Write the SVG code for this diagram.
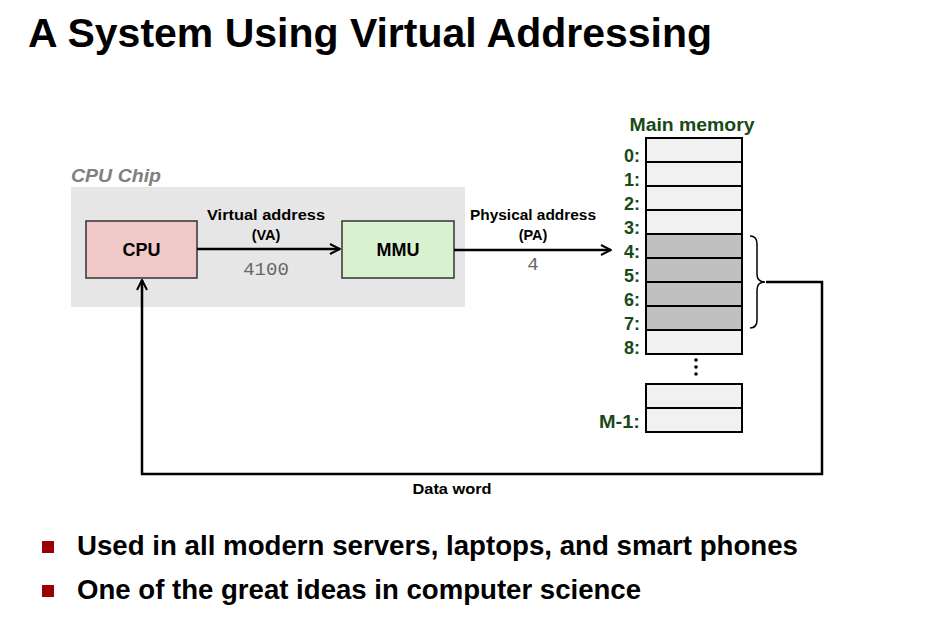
<svg xmlns="http://www.w3.org/2000/svg" width="933" height="642" viewBox="0 0 933 642">
<defs>
<marker id="ah" viewBox="0 0 12 12" refX="11" refY="6" markerWidth="12" markerHeight="12" markerUnits="userSpaceOnUse" orient="auto">
<path d="M1,1 L11,6 L1,11" fill="none" stroke="#000" stroke-width="2"/>
</marker>
<style>
.b{font-family:"Liberation Sans",Arial,sans-serif;font-weight:bold;fill:#000}
.g{font-family:"Liberation Sans",Arial,sans-serif;font-weight:bold;fill:#184a18;font-size:18px}
.m{font-family:"Liberation Mono","Courier New",monospace;fill:#666;font-size:19px}
.cell{stroke:#000;stroke-width:2}
.w{fill:#f1f1f1}
.d{fill:#c0c0c0}
.ln{fill:none;stroke:#000;stroke-width:2.5}
</style>
</defs>
<rect width="933" height="642" fill="#fff"/>
<text class="b" x="28" y="47" font-size="40" textLength="684" lengthAdjust="spacingAndGlyphs">A System Using Virtual Addressing</text>

<g id="cpuchip">
<rect x="71" y="187" width="394" height="120" fill="#e6e6e6"/>
<text x="71" y="182" font-family="Liberation Sans,Arial,sans-serif" font-weight="bold" font-style="italic" font-size="19" fill="#808080" textLength="90" lengthAdjust="spacingAndGlyphs">CPU Chip</text>
</g>
<g id="cpu">
<rect x="86" y="221" width="111" height="57" fill="#f0c8c8" stroke="#333" stroke-width="1.5"/>
<text class="b" x="141.5" y="256" font-size="18" text-anchor="middle">CPU</text>
</g>
<g id="mmu">
<rect x="342" y="221" width="112" height="57" fill="#d8f2d0" stroke="#333" stroke-width="1.5"/>
<text class="b" x="398" y="256" font-size="18" text-anchor="middle">MMU</text>
</g>

<g id="memory">
<text class="g" x="692" y="131" text-anchor="middle" textLength="125" lengthAdjust="spacingAndGlyphs">Main memory</text>
<rect class="cell w" x="646" y="138" width="96" height="24"/>
<rect class="cell w" x="646" y="162" width="96" height="24"/>
<rect class="cell w" x="646" y="186" width="96" height="24"/>
<rect class="cell w" x="646" y="210" width="96" height="24"/>
<rect class="cell d" x="646" y="234" width="96" height="24"/>
<rect class="cell d" x="646" y="258" width="96" height="24"/>
<rect class="cell d" x="646" y="282" width="96" height="24"/>
<rect class="cell d" x="646" y="306" width="96" height="24"/>
<rect class="cell w" x="646" y="330" width="96" height="24"/>
<rect class="cell w" x="646" y="384" width="96" height="24"/>
<rect class="cell w" x="646" y="408" width="96" height="24"/>
<g text-anchor="end">
<text class="g" x="640" y="162">0:</text>
<text class="g" x="640" y="186">1:</text>
<text class="g" x="640" y="210">2:</text>
<text class="g" x="640" y="234">3:</text>
<text class="g" x="640" y="258">4:</text>
<text class="g" x="640" y="282">5:</text>
<text class="g" x="640" y="306">6:</text>
<text class="g" x="640" y="330">7:</text>
<text class="g" x="640" y="354">8:</text>
<text class="g" x="640" y="428" textLength="41" lengthAdjust="spacingAndGlyphs">M-1:</text>
</g>
<circle cx="696" cy="360" r="1.8"/>
<circle cx="696" cy="367" r="1.8"/>
<circle cx="696" cy="374" r="1.8"/>
<path d="M750,236 Q757,236 757,244 L757,274 Q757,282 765,282 Q757,282 757,290 L757,320 Q757,328 750,328" fill="none" stroke="#000" stroke-width="1.5"/>
</g>

<g id="connectors">
<line class="ln" x1="197" y1="249" x2="340" y2="249" marker-end="url(#ah)"/>
<line class="ln" x1="454" y1="250" x2="611" y2="250" marker-end="url(#ah)"/>
<polyline class="ln" points="766,282 822,282 822,474 142,474 142,280" marker-end="url(#ah)"/>
<text class="b" x="266" y="220" font-size="14.5" text-anchor="middle" textLength="118" lengthAdjust="spacingAndGlyphs">Virtual address</text>
<text class="b" x="266" y="240" font-size="14.5" text-anchor="middle">(VA)</text>
<text class="m" x="266" y="275" text-anchor="middle">4100</text>
<text class="b" x="533" y="220" font-size="14.5" text-anchor="middle" textLength="126" lengthAdjust="spacingAndGlyphs">Physical address</text>
<text class="b" x="533" y="240" font-size="14.5" text-anchor="middle">(PA)</text>
<text class="m" x="533" y="270" text-anchor="middle">4</text>
<text class="b" x="452" y="494" font-size="14.5" text-anchor="middle" textLength="79" lengthAdjust="spacingAndGlyphs">Data word</text>
</g>

<g id="bullets">
<rect x="42" y="541" width="12" height="12" fill="#9b0000"/>
<text class="b" x="77" y="555" font-size="27" textLength="721" lengthAdjust="spacingAndGlyphs">Used in all modern servers, laptops, and smart phones</text>
<rect x="42" y="585" width="12" height="12" fill="#9b0000"/>
<text class="b" x="77" y="599" font-size="27" textLength="564" lengthAdjust="spacingAndGlyphs">One of the great ideas in computer science</text>
</g>
</svg>
